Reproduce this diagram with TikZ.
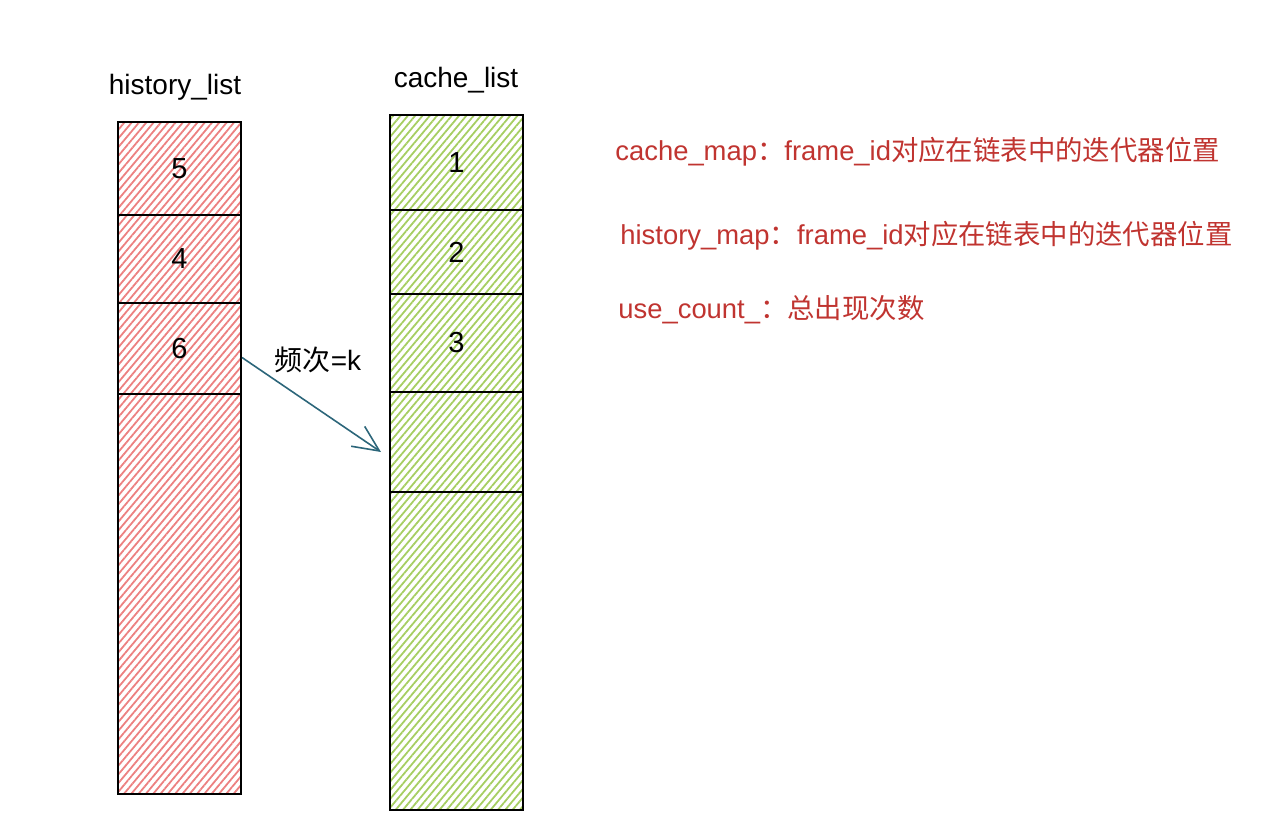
\documentclass[tikz,border=0pt]{standalone}
\usepackage{fontspec}
\setmainfont{Liberation Sans}
\newfontfamily\cjk{Noto Sans CJK SC}
\usetikzlibrary{patterns.meta,arrows.meta}

\definecolor{hatchred}{RGB}{236,128,128}
\definecolor{hatchgreen}{RGB}{166,206,98}
\definecolor{notered}{RGB}{192,52,48}
\definecolor{arrowteal}{RGB}{44,102,122}

\tikzset{
    cell/.style={rectangle, draw, line width=1pt, inner sep=0pt,
        font=\fontsize{14.5}{17}\selectfont},
    hcell/.style={cell, minimum width=61.5pt,
        pattern={Lines[angle=50,distance=2.8pt,line width=0.9pt]}, pattern color=hatchred},
    ccell/.style={cell, minimum width=66.5pt,
        pattern={Lines[angle=50,distance=2.8pt,line width=0.9pt]}, pattern color=hatchgreen},
    title/.style={font=\fontsize{14}{17}\selectfont},
    note/.style={anchor=west, inner sep=0pt, text=notered, font=\fontsize{13.7}{17}\selectfont},
    flow/.style={draw=arrowteal, line width=0.8pt, -{Straight Barb[length=13pt,width=12pt]}}
}

\newcommand{\hn}{\node[hcell]}
\newcommand{\cn}{\node[ccell]}

\begin{document}
\begin{tikzpicture}[x=0.5pt, y=-0.5pt]
            \useasboundingbox (0,0) rectangle (1280,837);

            % history_list
            \node[title] (htitle) at (175,87) {history\_list};
            \hn[minimum height=46.5pt] (h5) at (179.5,168.5) {5};
            \hn[minimum height=44pt] (h4) at (179.5,259) {4};
            \hn[minimum height=45.5pt] (h6) at (179.5,348.5) {6};
            \hn[minimum height=200pt] (hrest) at (179.5,594) {};

            % cache_list
            \node[title] (ctitle) at (456,80) {cache\_list};
            \cn[minimum height=47.5pt] (c1) at (456.5,162.5) {1};
            \cn[minimum height=42pt] (c2) at (456.5,252) {2};
            \cn[minimum height=49pt] (c3) at (456.5,343) {3};
            \cn[minimum height=50pt] (c4) at (456.5,442) {};
            \cn[minimum height=159pt] (crest) at (456.5,651) {};

            \node[title] (freq) at (318,360) {{\cjk 频次}=k};

            \draw[flow]
                ([yshift=-4.5pt]h6.east) -- ([xshift=-4pt,yshift=-5pt]c4.west);

            % maps
            \node[note] (cmap) at (615,152) {cache\_map{\cjk ：}frame\_id{\cjk 对应在链表中的迭代器位置}};
            \node[note] (hmap) at (620,236) {history\_map{\cjk ：}frame\_id{\cjk 对应在链表中的迭代器位置}};
            \node[note] (ucnt) at (618,310) {use\_count\_{\cjk ：总出现次数}};
        \end{tikzpicture}
\end{document}
